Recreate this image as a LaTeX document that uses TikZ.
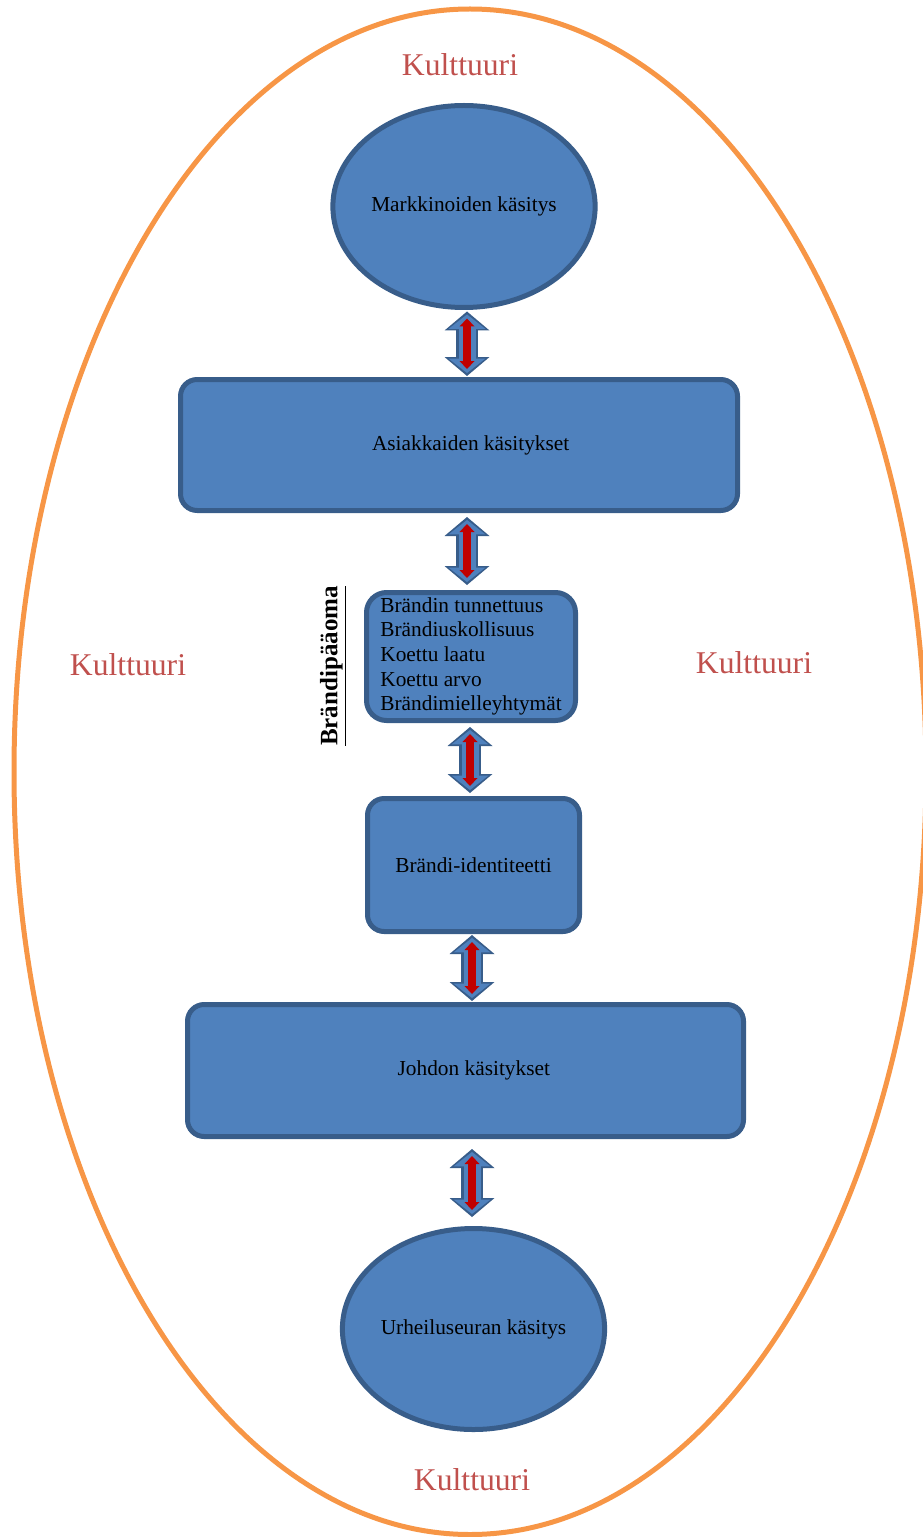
\documentclass[tikz,border=0pt]{standalone}
\usepackage{fontspec}
\setmainfont{Liberation Serif}
\usetikzlibrary{shapes.geometric,arrows.meta}

\definecolor{boxfill}{HTML}{4F81BD}
\definecolor{boxline}{HTML}{385D8A}
\definecolor{culture}{HTML}{F79646}
\definecolor{culturetext}{HTML}{C0504D}
\definecolor{arrowred}{HTML}{C00000}

\tikzset{
  boxtext/.style={font=\fontsize{12.8}{14.8}\selectfont},
  view/.style={ellipse, draw=boxline, fill=boxfill, line width=3pt, inner sep=0pt, boxtext},
  block/.style={rectangle, rounded corners=10pt, draw=boxline, fill=boxfill, line width=3pt, inner sep=0pt, boxtext},
  kulttuuri/.style={text=culturetext, font=\fontsize{19}{22}\selectfont},
  linkarrow/.style={
    draw=boxfill, line width=10.2pt,
    {Triangle[length=8.6pt,width=22pt,line width=0pt]}-{Triangle[length=8.6pt,width=22pt,line width=0pt]},
    preaction={draw=boxline, line width=13.2pt, shorten <=-1.8pt, shorten >=-1.8pt,
      {Triangle[length=11.4pt,width=27pt,line width=0pt]}-{Triangle[length=11.4pt,width=27pt,line width=0pt]}},
    postaction={draw=arrowred, line width=4.8pt, shorten <=2.4pt, shorten >=2.4pt,
      {Triangle[length=4.8pt,width=9pt,line width=0pt]}-{Triangle[length=4.8pt,width=9pt,line width=0pt]}}
  }
}

\begin{document}
\begin{tikzpicture}[x=0.6pt, y=-0.6pt]

  % picture frame (pixels of the reference)
  \useasboundingbox (0,0) rectangle (922,1537);

  % the culture around everything
  \draw[culture, line width=3pt] (470,771.75) ellipse [x radius=456, y radius=762.75];

  \node[kulttuuri] (kulttuuriN) at (460,65) {Kulttuuri};
  \node[kulttuuri] (kulttuuriW) at (128,665) {Kulttuuri};
  \node[kulttuuri] (kulttuuriE) at (754,663) {Kulttuuri};
  \node[kulttuuri] (kulttuuriS) at (472,1480) {Kulttuuri};

  % views and boxes, top to bottom
  \node[view, minimum width=154.2pt, minimum height=121.2pt] (markkinat) at (464,206.5) {Markkinoiden käsitys};
  \node[block, minimum width=334.2pt, minimum height=78.6pt] (asiakkaat) at (459,445) {\hspace*{14pt}Asiakkaiden käsitykset};
  \node[block, rounded corners=12pt, minimum width=125.4pt, minimum height=76.8pt, align=left] (brandi) at (471,656.5)
    {Brändin tunnettuus\\Brändiuskollisuus\\Koettu laatu\\Koettu arvo\\Brändimielleyhtymät};
  \node[block, minimum width=127.2pt, minimum height=79.8pt] (identiteetti) at (473.5,865) {Brändi-identiteetti};
  \node[block, minimum width=333.6pt, minimum height=79.2pt] (johto) at (465.5,1070.5) {\hspace*{10pt}Johdon käsitykset};
  \node[view, minimum width=153.6pt, minimum height=120.6pt] (seura) at (473.5,1329) {Urheiluseuran käsitys};

  % side title of the brand box
  \node[rotate=90, font=\bfseries\fontsize{15}{18}\selectfont] (paaoma) at (333,666) {\underline{Brändipääoma}};

  % two-way arrows between the levels
  \draw[linkarrow] ([xshift=1.8pt,yshift=-2.7pt]markkinat.south)
    -- ([xshift=1.8pt,yshift=2.4pt]markkinat.south |- asiakkaat.north);
  \draw[linkarrow] ([xshift=-2.4pt,yshift=-4.2pt]brandi.north |- asiakkaat.south)
    -- ([xshift=-2.4pt,yshift=4.8pt]brandi.north);
  \draw[linkarrow] ([xshift=-0.6pt,yshift=-4.2pt]brandi.south)
    -- ([xshift=-0.6pt,yshift=3.6pt]brandi.south |- identiteetti.north);
  \draw[linkarrow] ([xshift=-0.9pt,yshift=-2.4pt]identiteetti.south)
    -- ([xshift=-0.9pt,yshift=2.4pt]identiteetti.south |- johto.north);
  \draw[linkarrow] ([xshift=-0.9pt,yshift=-7.8pt]seura.north |- johto.south)
    -- ([xshift=-0.9pt,yshift=7.2pt]seura.north);

\end{tikzpicture}
\end{document}
